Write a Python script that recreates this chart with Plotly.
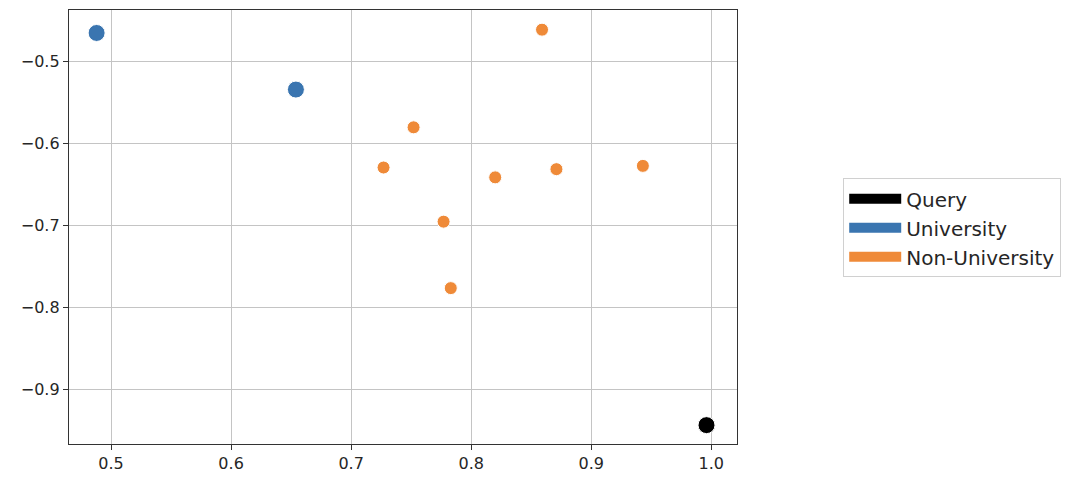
import plotly.graph_objects as go

# cosine-style similarity coordinates
query_x = [0.996]
query_y = [-0.943]

university_x = [0.488, 0.654]
university_y = [-0.465, -0.534]

non_university_x = [0.859, 0.752, 0.727, 0.820, 0.871, 0.943, 0.777, 0.783]
non_university_y = [-0.461, -0.580, -0.629, -0.641, -0.631, -0.627, -0.695, -0.776]

groups = ["Query", "University", "Non-University"]
colors = {"Query": "#000000", "University": "#3a75b0", "Non-University": "#ef8a38"}

fig = go.Figure()

fig.add_trace(go.Scatter(
    x=university_x, y=university_y, mode="markers", showlegend=False,
    marker=dict(size=17, color=colors["University"], line=dict(color="white", width=1)),
))
fig.add_trace(go.Scatter(
    x=non_university_x, y=non_university_y, mode="markers", showlegend=False,
    marker=dict(size=13, color=colors["Non-University"], line=dict(color="white", width=1)),
))
fig.add_trace(go.Scatter(
    x=query_x, y=query_y, mode="markers", showlegend=False,
    marker=dict(size=17, color=colors["Query"], line=dict(color="white", width=1)),
))

# legend-only entries drawn as thick patches
for name in groups:
    fig.add_trace(go.Scatter(
        x=[None], y=[None], mode="lines", name=name,
        line=dict(color=colors[name], width=14),
    ))

axis_style = dict(
    showgrid=True, gridcolor="#c4c4c4", gridwidth=1.2,
    showline=True, linecolor="#333333", linewidth=1.3, mirror=True,
    ticks="outside", ticklen=5, tickcolor="#333333",
    tickfont=dict(family="DejaVu Sans", size=16, color="#262626"),
    zeroline=False, tickformat=".1f", dtick=0.1,
)

fig.update_xaxes(range=[0.465, 1.0214], tick0=0.5, **axis_style)
fig.update_yaxes(range=[-0.966, -0.437], tick0=-0.9, **axis_style)

fig.update_layout(
    width=1072,
    height=486,
    margin=dict(l=61, r=343, t=2, b=50),
    plot_bgcolor="white",
    paper_bgcolor="white",
    font=dict(family="DejaVu Sans", size=16, color="#262626"),
    legend=dict(
        x=1.159, y=0.498, xanchor="left", yanchor="middle",
        bordercolor="#d0d0d0", borderwidth=1, bgcolor="white",
        font=dict(size=20), itemwidth=52, tracegroupgap=0,
    ),
)

fig.write_html("out.html")
